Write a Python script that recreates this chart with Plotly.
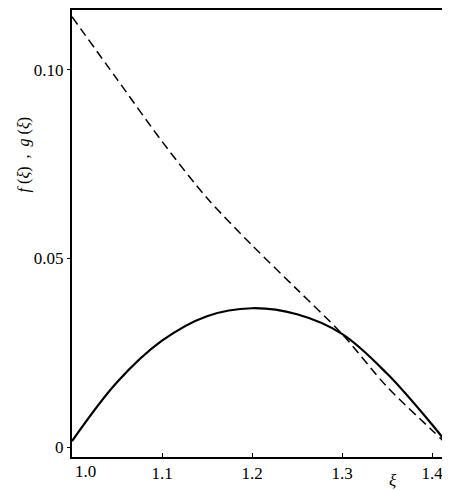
import plotly.graph_objects as go

# Data
xi_f = [1.0, 1.05, 1.1, 1.15, 1.2, 1.25, 1.3, 1.35, 1.4, 1.42]
f_vals = [0.0016, 0.0172, 0.0282, 0.0347, 0.0368, 0.0352, 0.0300, 0.0195, 0.0060, 0.0]

xi_g = [1.0, 1.05, 1.1, 1.15, 1.2, 1.25, 1.3, 1.35, 1.4, 1.42]
g_vals = [0.1140, 0.0975, 0.0810, 0.0660, 0.0535, 0.0418, 0.0300, 0.0160, 0.0045, 0.0]

x_ticks = [1.0, 1.1, 1.2, 1.3, 1.4]
x_ticklabels = ["", "1.1", "1.2", "1.3", "1.4"]
first_x_label = "1.0"
y_ticks = [0, 0.05, 0.10]
y_ticklabels = ["0", "0.05", "0.10"]

fig = go.Figure()
fig.add_trace(go.Scatter(x=xi_g, y=g_vals, mode="lines",
                         line=dict(color="black", width=1.5, dash="9px,5px", shape="spline", smoothing=0.8),
                         showlegend=False))
fig.add_trace(go.Scatter(x=xi_f, y=f_vals, mode="lines",
                         line=dict(color="black", width=2.2, shape="spline"),
                         showlegend=False))

serif = "Liberation Serif, Times New Roman, serif"
font = dict(family=serif, size=17, color="black")

fig.update_layout(
    width=442, height=483,
    margin=dict(l=64, r=0, t=0, b=34),
    paper_bgcolor="white", plot_bgcolor="white",
    font=font,
    xaxis=dict(range=[1.0, 1.42], tickvals=x_ticks, ticktext=x_ticklabels,
               showline=True, linecolor="black", linewidth=2, mirror=True,
               ticks="inside", ticklen=4, tickcolor="black", showgrid=False,
               zeroline=False, tickfont=font),
    yaxis=dict(range=[-0.0026, 0.1158], tickvals=y_ticks, ticktext=y_ticklabels,
               showline=True, linecolor="black", linewidth=2,
               ticks="outside", ticklen=3, tickcolor="black", showgrid=False,
               zeroline=False, tickfont=font),
    annotations=[
        dict(text="<i>f</i> (<i>ξ</i>)&nbsp;&nbsp;,&nbsp;&nbsp;<i>g</i> (<i>ξ</i>)", x=-0.127, y=0.677,
             xref="paper", yref="paper", textangle=-90, showarrow=False,
             xanchor="center", yanchor="middle",
             font=dict(family=serif, size=16, color="black")),
        dict(text="<i>ξ</i>", x=0.849, y=-0.053, xref="paper", yref="paper",
             xanchor="center", yanchor="middle",
             showarrow=False, font=dict(family=serif, size=17, color="black")),
        dict(text=first_x_label, x=x_ticks[0], y=-0.006, xref="x", yref="paper",
             xanchor="left", yanchor="top", showarrow=False, xshift=1,
             font=font),
    ],
)

fig.write_html("out.html")
